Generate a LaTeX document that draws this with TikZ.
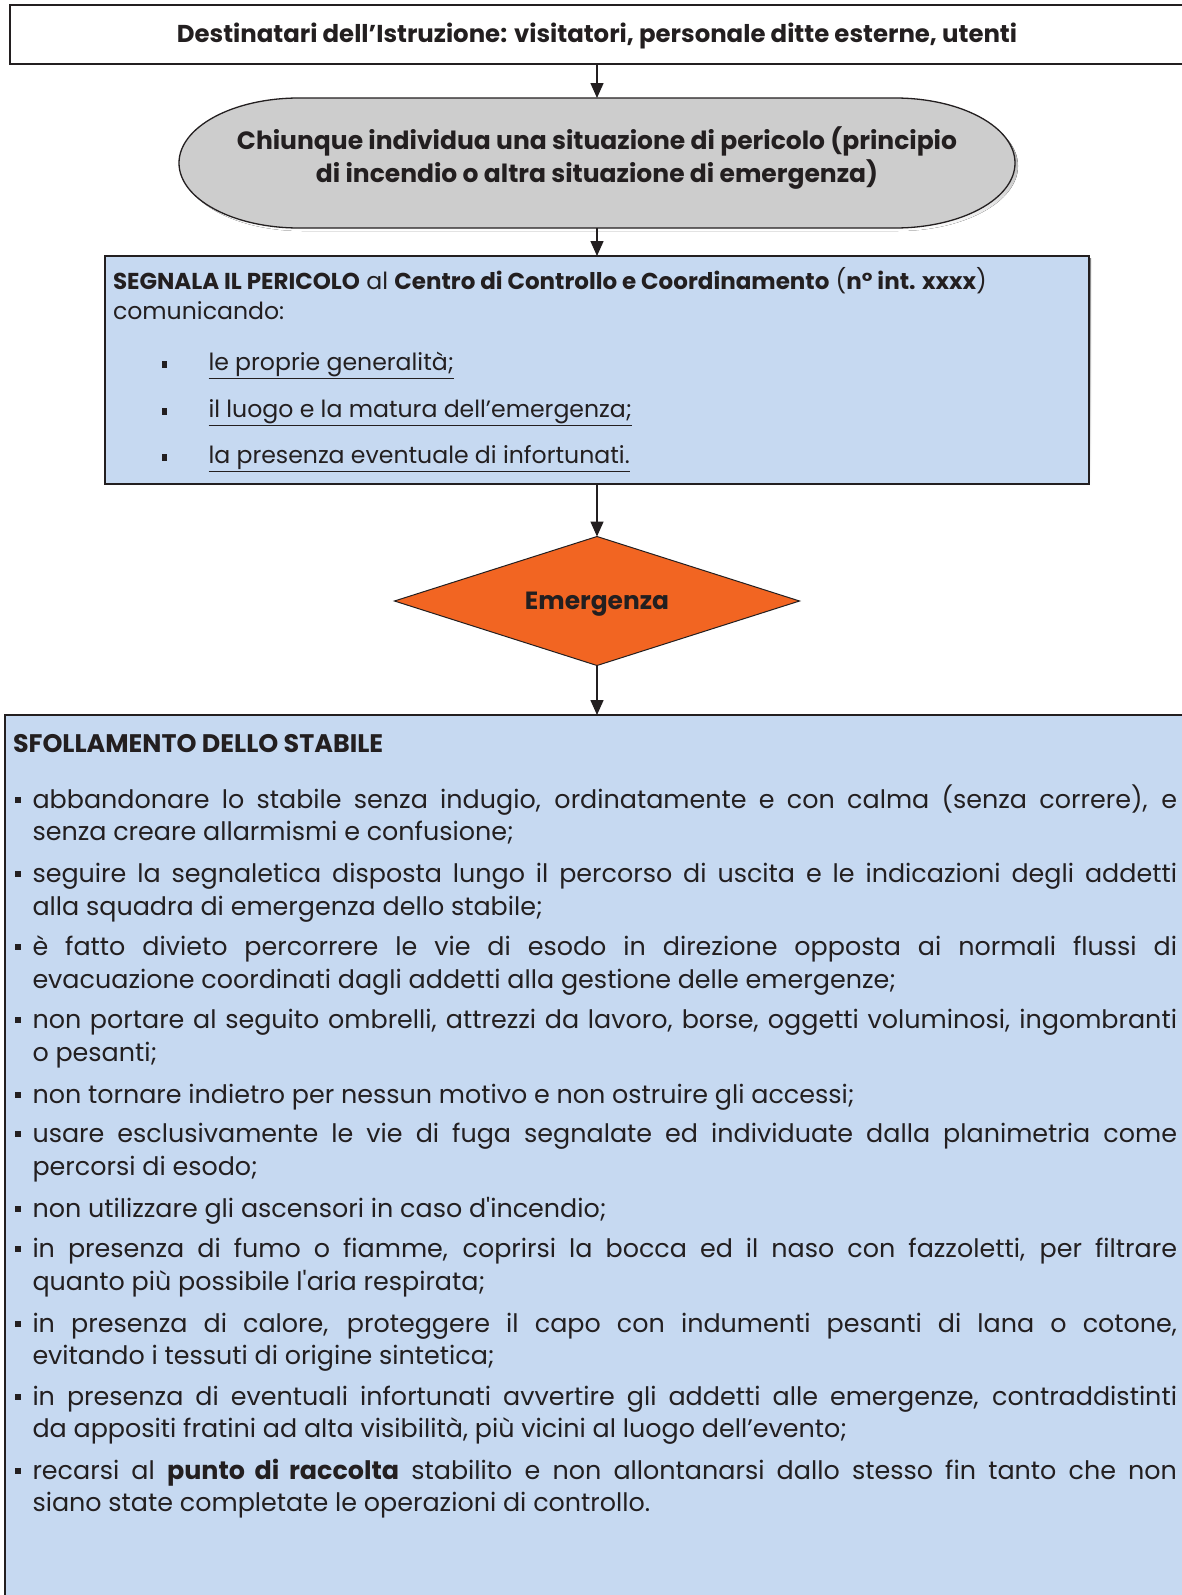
\documentclass[tikz,border=0pt]{standalone}
\usepackage{fontspec}
\setmainfont{Poppins}
\newfontfamily\rawpop{Poppins}[Ligatures=TeXOff]
\usetikzlibrary{arrows.meta,shapes.geometric,calc}
\definecolor{boxblue}{HTML}{C6D9F1}
\definecolor{ovalgray}{HTML}{CDCDCD}
\definecolor{emorange}{HTML}{F26522}
\definecolor{ink}{HTML}{231F20}
\definecolor{shade}{HTML}{6F6F6F}
\newlength{\Wd}\setlength{\Wd}{1144.5pt}
\newcommand{\jline}[1]{\makebox[\Wd][s]{#1}}
\newcommand{\sqbul}{\rule[5.5pt]{6pt}{6pt}}
\newcommand{\itembul}{\rule[3pt]{5pt}{7pt}}
\newcommand{\aposq}{{\rawpop'}}
\newcommand{\segbf}[1]{{\fontsize{23}{26}\selectfont\bfseries #1}}
\begin{document}
\begin{tikzpicture}[x=1pt,y=-1pt,
  every node/.style={inner sep=0pt, outer sep=0pt, text=ink},
  arr/.style={draw=ink, line width=1.5pt, -{Triangle[length=15pt,width=13pt]}},
  frame/.style={draw=ink, line width=1.5pt},
  bodyl/.style={anchor=base west, font=\fontsize{25.4}{30}\selectfont},
  segl/.style={anchor=base west, font=\fontsize{23.6}{27}\selectfont},
]
\useasboundingbox (0,0) rectangle (1182,1595);
\fill[white] (0,0) rectangle (1182,1595);
\clip (0,0) rectangle (1182,1595);

% top box
\node[frame, fill=white, minimum width=1200pt, minimum height=59pt, anchor=north west] (dest) at (10,5) {};
\node[font=\bfseries\fontsize{24.4}{28}\selectfont] (destT) at (597,36) {Destinatari dell’Istruzione: visitatori, personale ditte esterne, utenti};

% oval (stadium)
\node[minimum width=836pt, minimum height=130pt] (oval) at (597,163) {};
\fill[shade] ($(oval.north west)+(123,3)$) -- ($(oval.north east)+(-117,3)$) arc[start angle=-90,end angle=90,x radius=120,y radius=65] -- ($(oval.south west)+(123,3)$) arc[start angle=90,end angle=270,x radius=120,y radius=65] -- cycle;
\path[fill=ovalgray, draw=ink, line width=1.3pt] ($(oval.north west)+(120,0)$) -- ($(oval.north east)+(-120,0)$) arc[start angle=-90,end angle=90,x radius=120,y radius=65] -- ($(oval.south west)+(120,0)$) arc[start angle=90,end angle=270,x radius=120,y radius=65] -- cycle;
\node[font=\bfseries\fontsize{25}{32.6}\selectfont, align=center] (ovalT) at (597,158) {Chiunque individua una situazione di pericolo (principio\\di incendio o altra situazione di emergenza)};

% blue box
\fill[shade] (107,258) rectangle (1091,486);
\node[frame, fill=boxblue, minimum width=984pt, minimum height=228pt, anchor=north west] (seg) at (105,256) {};
\begin{scope}[shift={(0,1.5)}]
\node[segl] (s1) at (113,288) {\segbf{SEGNALA IL PERICOLO} al \segbf{Centro di Controllo e Coordinamento} (\segbf{n° int. xxxx})};
\node[segl] (s2) at (113,318) {comunicando:};
\node[segl] (s3b) at (162,369) {\itembul};
\node[segl] (s3) at (208.5,369) {\underline{le proprie generalità;}};
\node[segl] (s4b) at (162,416) {\itembul};
\node[segl] (s4) at (208.5,416) {\underline{il luogo e la matura dell’emergenza;}};
\node[segl] (s5b) at (162,462) {\itembul};
\node[segl] (s5) at (208.5,462) {\underline{la presenza eventuale di infortunati.}};
\end{scope}

% diamond
\node[diamond, aspect=3.14, draw=ink, fill=emorange, line width=1pt, minimum width=405pt, minimum height=129pt, text depth=0pt, font=\bfseries\fontsize{24.9}{28}\selectfont] (emg) at (597,601) {Emergenza};

% bottom box
\node[frame, fill=boxblue, minimum width=1200pt, minimum height=900pt, anchor=north west] (sfol) at (5,715) {};
\node[anchor=base west, font=\bfseries\fontsize{25.4}{30}\selectfont] (sfolT) at (13,752) {SFOLLAMENTO DELLO STABILE};

\begin{scope}[shift={(0,2.5)}]
\node[bodyl] (b1a) at (15,805.5) {\sqbul\hspace{11.5pt}\jline{abbandonare lo stabile senza indugio, ordinatamente e con calma (senza correre), e}};
\node[bodyl] (b1b) at (32.5,838) {senza creare allarmismi e confusione;};
\node[bodyl] (b2a) at (15,880) {\sqbul\hspace{11.5pt}\jline{seguire la segnaletica disposta lungo il percorso di uscita e le indicazioni degli addetti}};
\node[bodyl] (b2b) at (32.5,912.5) {alla squadra di emergenza dello stabile;};
\node[bodyl] (b3a) at (15,953) {\sqbul\hspace{11.5pt}\jline{è fatto divieto percorrere le vie di esodo in direzione opposta ai normali flussi di}};
\node[bodyl] (b3b) at (32.5,985.5) {evacuazione coordinati dagli addetti alla gestione delle emergenze;};
\node[bodyl] (b4a) at (15,1026) {\sqbul\hspace{11.5pt}\jline{non portare al seguito ombrelli, attrezzi da lavoro, borse, oggetti voluminosi, ingombranti}};
\node[bodyl] (b4b) at (32.5,1059) {o pesanti;};
\node[bodyl] (b5a) at (15,1100.5) {\sqbul\hspace{11.5pt}non tornare indietro per nessun motivo e non ostruire gli accessi;};
\node[bodyl] (b6a) at (15,1140) {\sqbul\hspace{11.5pt}\jline{usare esclusivamente le vie di fuga segnalate ed individuate dalla planimetria come}};
\node[bodyl] (b6b) at (32.5,1172.5) {percorsi di esodo;};
\node[bodyl] (b7a) at (15,1214.5) {\sqbul\hspace{11.5pt}non utilizzare gli ascensori in caso d\aposq incendio;};
\node[bodyl] (b8a) at (15,1255) {\sqbul\hspace{11.5pt}\jline{in presenza di fumo o fiamme, coprirsi la bocca ed il naso con fazzoletti, per filtrare}};
\node[bodyl] (b8b) at (32.5,1287.5) {quanto più possibile l\aposq aria respirata;};
\node[bodyl] (b9a) at (15,1329.5) {\sqbul\hspace{11.5pt}\jline{in presenza di calore, proteggere il capo con indumenti pesanti di lana o cotone,}};
\node[bodyl] (b9b) at (32.5,1362) {evitando i tessuti di origine sintetica;};
\node[bodyl] (b10a) at (15,1402.5) {\sqbul\hspace{11.5pt}\jline{in presenza di eventuali infortunati avvertire gli addetti alle emergenze, contraddistinti}};
\node[bodyl] (b10b) at (32.5,1435) {da appositi fratini ad alta visibilità, più vicini al luogo dell’evento;};
\node[bodyl] (b11a) at (15,1477) {\sqbul\hspace{11.5pt}\jline{recarsi al \textbf{punto di raccolta} stabilito e non allontanarsi dallo stesso fin tanto che non}};
\node[bodyl] (b11b) at (32.5,1508.5) {siano state completate le operazioni di controllo.};
\end{scope}

% connectors
\draw[arr] (dest.south -| oval.north) -- (oval.north);
\draw[arr] (oval.south) -- (oval.south |- seg.north);
\draw[arr] (seg.south -| emg.north) -- (emg.north);
\draw[arr] (emg.south) -- (emg.south |- sfol.north);
\end{tikzpicture}
\end{document}
